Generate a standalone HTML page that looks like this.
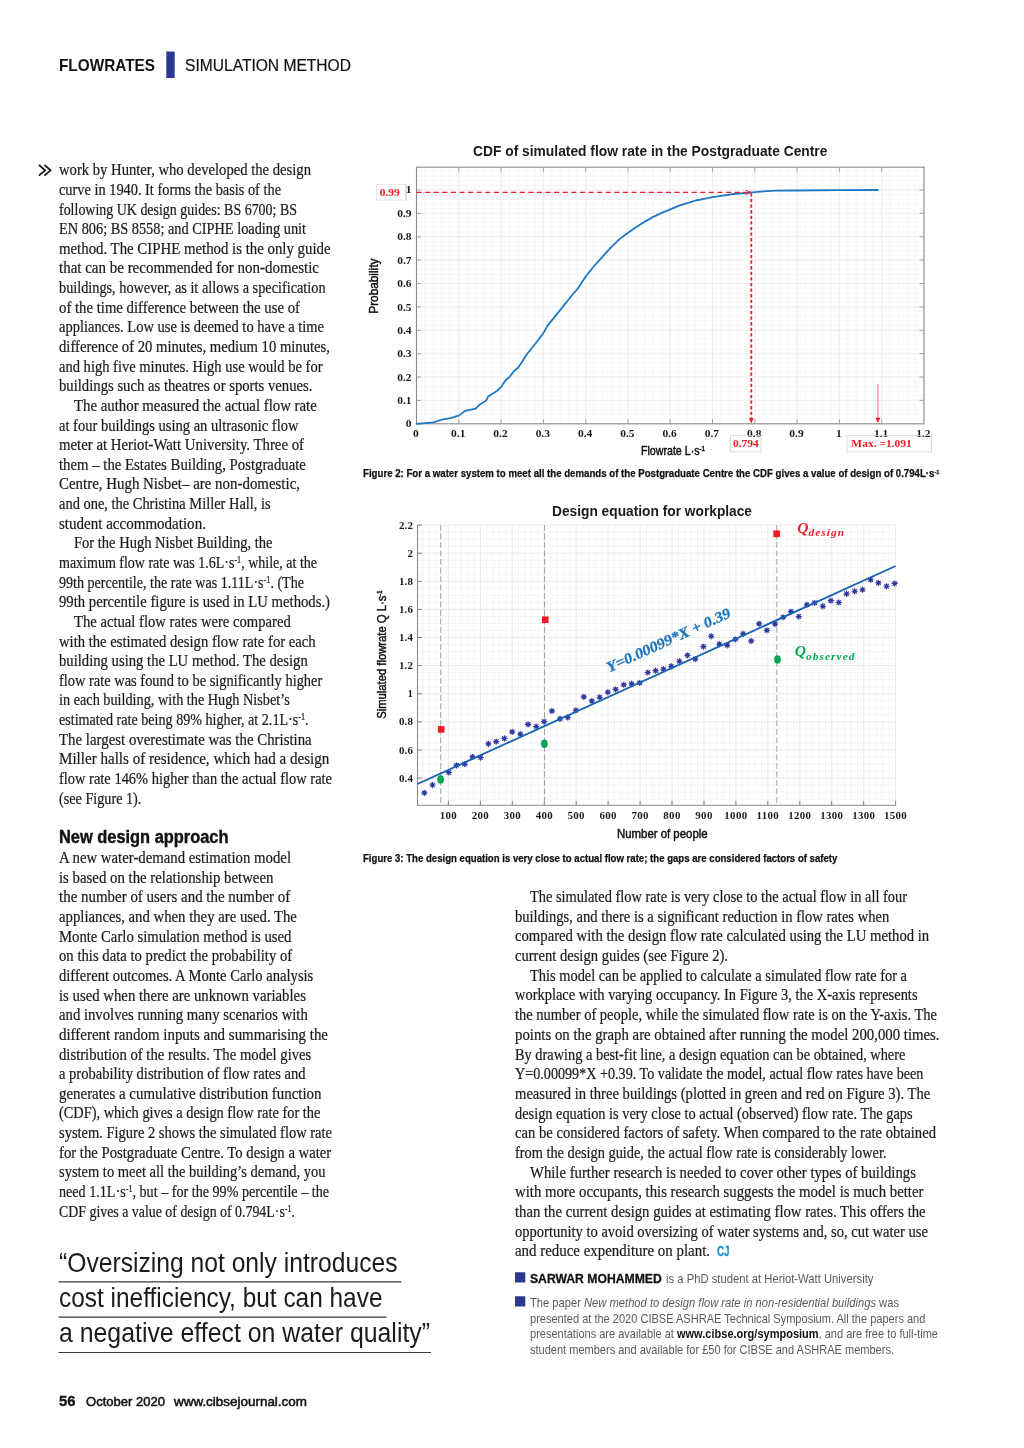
<!DOCTYPE html><html lang="en"><head><meta charset="utf-8"><title>Flowrates – Simulation method</title><style>

html,body{margin:0;padding:0;background:#fff}
body{width:1024px;height:1448px;position:relative;overflow:hidden;color:#231f20}
.l{position:absolute;white-space:nowrap;transform-origin:0 50%;margin:0}
.l sup{font-size:58%;line-height:0;vertical-align:baseline;position:relative;top:-0.5em;letter-spacing:0}
.b{font-family:"Liberation Serif",serif;color:#1d1a1b;-webkit-text-stroke:0.22px #1d1a1b}
.h2{font-family:"Liberation Sans",sans-serif;font-weight:700;color:#111;-webkit-text-stroke:0.4px #111}
.cj{font-family:"Liberation Sans",sans-serif;font-weight:700;color:#1c94d8;-webkit-text-stroke:0.4px #1c94d8}
.au{font-family:"Liberation Sans",sans-serif;font-weight:700;color:#111;-webkit-text-stroke:0.3px #111}
.nt{font-family:"Liberation Sans",sans-serif;color:#5a5a5c}
.nt b{color:#111}
.hd1{font-family:"Liberation Sans",sans-serif;font-weight:700;color:#111}
.hd2{font-family:"Liberation Sans",sans-serif;color:#111;-webkit-text-stroke:0.2px #111}
.ft1{font-family:"Liberation Sans",sans-serif;font-weight:700;color:#111;-webkit-text-stroke:0.3px #111}
.ft2{font-family:"Liberation Sans",sans-serif;color:#111;-webkit-text-stroke:0.5px #111}
.pq{font-family:"Liberation Sans",sans-serif;color:#1c1c1c}
.ct{font-family:"Liberation Sans",sans-serif;font-weight:700;color:#1a1a1a}
.cap{font-family:"Liberation Sans",sans-serif;font-weight:700;color:#111;-webkit-text-stroke:0.25px #111}
.ax{font-family:"Liberation Sans",sans-serif;color:#111;-webkit-text-stroke:0.45px #111}
svg{position:absolute;left:0;top:0}
svg text{font-family:"Liberation Serif",serif;font-weight:700}

</style></head><body>
<svg width="1024" height="1448" viewBox="0 0 1024 1448">
<path d="M416.5 167.2V423.8M425 167.2V423.8M433.4 167.2V423.8M441.9 167.2V423.8M450.3 167.2V423.8M458.8 167.2V423.8M467.2 167.2V423.8M475.7 167.2V423.8M484.2 167.2V423.8M492.6 167.2V423.8M501.1 167.2V423.8M509.5 167.2V423.8M518 167.2V423.8M526.5 167.2V423.8M534.9 167.2V423.8M543.4 167.2V423.8M551.8 167.2V423.8M560.3 167.2V423.8M568.8 167.2V423.8M577.2 167.2V423.8M585.7 167.2V423.8M594.1 167.2V423.8M602.6 167.2V423.8M611 167.2V423.8M619.5 167.2V423.8M628 167.2V423.8M636.4 167.2V423.8M644.9 167.2V423.8M653.3 167.2V423.8M661.8 167.2V423.8M670.2 167.2V423.8M678.7 167.2V423.8M687.2 167.2V423.8M695.6 167.2V423.8M704.1 167.2V423.8M712.5 167.2V423.8M721 167.2V423.8M729.5 167.2V423.8M737.9 167.2V423.8M746.4 167.2V423.8M754.8 167.2V423.8M763.3 167.2V423.8M771.8 167.2V423.8M780.2 167.2V423.8M788.7 167.2V423.8M797.1 167.2V423.8M805.6 167.2V423.8M814 167.2V423.8M822.5 167.2V423.8M831 167.2V423.8M839.4 167.2V423.8M847.9 167.2V423.8M856.3 167.2V423.8M864.8 167.2V423.8M873.2 167.2V423.8M881.7 167.2V423.8M890.2 167.2V423.8M898.6 167.2V423.8M907.1 167.2V423.8M915.5 167.2V423.8M924 167.2V423.8M416.5 423.8H924M416.5 419.1H924M416.5 414.4H924M416.5 409.8H924M416.5 405.1H924M416.5 400.4H924M416.5 395.7H924M416.5 391.1H924M416.5 386.4H924M416.5 381.7H924M416.5 377H924M416.5 372.4H924M416.5 367.7H924M416.5 363H924M416.5 358.3H924M416.5 353.7H924M416.5 349H924M416.5 344.3H924M416.5 339.6H924M416.5 335H924M416.5 330.3H924M416.5 325.6H924M416.5 320.9H924M416.5 316.3H924M416.5 311.6H924M416.5 306.9H924M416.5 302.2H924M416.5 297.5H924M416.5 292.9H924M416.5 288.2H924M416.5 283.5H924M416.5 278.8H924M416.5 274.2H924M416.5 269.5H924M416.5 264.8H924M416.5 260.1H924M416.5 255.5H924M416.5 250.8H924M416.5 246.1H924M416.5 241.4H924M416.5 236.8H924M416.5 232.1H924M416.5 227.4H924M416.5 222.7H924M416.5 218.1H924M416.5 213.4H924M416.5 208.7H924M416.5 204H924M416.5 199.4H924M416.5 194.7H924M416.5 190H924M416.5 185.3H924M416.5 180.6H924M416.5 176H924M416.5 171.3H924" stroke="#f5f5f5" stroke-width="0.8" fill="none"/>
<path d="M458.8 167.2V423.8M501.1 167.2V423.8M543.4 167.2V423.8M585.7 167.2V423.8M628 167.2V423.8M670.2 167.2V423.8M712.5 167.2V423.8M754.8 167.2V423.8M797.1 167.2V423.8M839.4 167.2V423.8M881.7 167.2V423.8M416.5 400.4H924M416.5 377H924M416.5 353.7H924M416.5 330.3H924M416.5 306.9H924M416.5 283.5H924M416.5 260.1H924M416.5 236.8H924M416.5 213.4H924M416.5 190H924" stroke="#ececec" stroke-width="0.9" fill="none"/>
<rect x="416.5" y="167.2" width="507.5" height="256.6" fill="none" stroke="#8a8a8a" stroke-width="1.1"/>
<path d="M458.8 423.8v-4.5M458.8 167.2v4.5M501.1 423.8v-4.5M501.1 167.2v4.5M543.4 423.8v-4.5M543.4 167.2v4.5M585.7 423.8v-4.5M585.7 167.2v4.5M628 423.8v-4.5M628 167.2v4.5M670.2 423.8v-4.5M670.2 167.2v4.5M712.5 423.8v-4.5M712.5 167.2v4.5M754.8 423.8v-4.5M754.8 167.2v4.5M797.1 423.8v-4.5M797.1 167.2v4.5M839.4 423.8v-4.5M839.4 167.2v4.5M881.7 423.8v-4.5M881.7 167.2v4.5M416.5 400.4h4.5M924 400.4h-4.5M416.5 377h4.5M924 377h-4.5M416.5 353.7h4.5M924 353.7h-4.5M416.5 330.3h4.5M924 330.3h-4.5M416.5 306.9h4.5M924 306.9h-4.5M416.5 283.5h4.5M924 283.5h-4.5M416.5 260.1h4.5M924 260.1h-4.5M416.5 236.8h4.5M924 236.8h-4.5M416.5 213.4h4.5M924 213.4h-4.5M416.5 190h4.5M924 190h-4.5" stroke="#999" stroke-width="0.9" fill="none"/>
<text transform="translate(415.9 436.6) scale(1.22 1)" font-size="9.4" text-anchor="middle" fill="#1a1a1a">0</text>
<text transform="translate(458.2 436.6) scale(1.22 1)" font-size="9.4" text-anchor="middle" fill="#1a1a1a">0.1</text>
<text transform="translate(500.5 436.6) scale(1.22 1)" font-size="9.4" text-anchor="middle" fill="#1a1a1a">0.2</text>
<text transform="translate(542.8 436.6) scale(1.22 1)" font-size="9.4" text-anchor="middle" fill="#1a1a1a">0.3</text>
<text transform="translate(585.1 436.6) scale(1.22 1)" font-size="9.4" text-anchor="middle" fill="#1a1a1a">0.4</text>
<text transform="translate(627.4 436.6) scale(1.22 1)" font-size="9.4" text-anchor="middle" fill="#1a1a1a">0.5</text>
<text transform="translate(669.6 436.6) scale(1.22 1)" font-size="9.4" text-anchor="middle" fill="#1a1a1a">0.6</text>
<text transform="translate(711.9 436.6) scale(1.22 1)" font-size="9.4" text-anchor="middle" fill="#1a1a1a">0.7</text>
<text transform="translate(754.2 436.6) scale(1.22 1)" font-size="9.4" text-anchor="middle" fill="#1a1a1a">0.8</text>
<text transform="translate(796.5 436.6) scale(1.22 1)" font-size="9.4" text-anchor="middle" fill="#1a1a1a">0.9</text>
<text transform="translate(838.8 436.6) scale(1.22 1)" font-size="9.4" text-anchor="middle" fill="#1a1a1a">1</text>
<text transform="translate(881.1 436.6) scale(1.22 1)" font-size="9.4" text-anchor="middle" fill="#1a1a1a">1.1</text>
<text transform="translate(923.4 436.6) scale(1.22 1)" font-size="9.4" text-anchor="middle" fill="#1a1a1a">1.2</text>
<text transform="translate(411.6 427.4) scale(1.22 1)" font-size="9.4" text-anchor="end" fill="#1a1a1a">0</text>
<text transform="translate(411.6 404) scale(1.22 1)" font-size="9.4" text-anchor="end" fill="#1a1a1a">0.1</text>
<text transform="translate(411.6 380.6) scale(1.22 1)" font-size="9.4" text-anchor="end" fill="#1a1a1a">0.2</text>
<text transform="translate(411.6 357.3) scale(1.22 1)" font-size="9.4" text-anchor="end" fill="#1a1a1a">0.3</text>
<text transform="translate(411.6 333.9) scale(1.22 1)" font-size="9.4" text-anchor="end" fill="#1a1a1a">0.4</text>
<text transform="translate(411.6 310.5) scale(1.22 1)" font-size="9.4" text-anchor="end" fill="#1a1a1a">0.5</text>
<text transform="translate(411.6 287.1) scale(1.22 1)" font-size="9.4" text-anchor="end" fill="#1a1a1a">0.6</text>
<text transform="translate(411.6 263.7) scale(1.22 1)" font-size="9.4" text-anchor="end" fill="#1a1a1a">0.7</text>
<text transform="translate(411.6 240.4) scale(1.22 1)" font-size="9.4" text-anchor="end" fill="#1a1a1a">0.8</text>
<text transform="translate(411.6 217) scale(1.22 1)" font-size="9.4" text-anchor="end" fill="#1a1a1a">0.9</text>
<path d="M416.5 423.8 L425.0 423.1 L433.4 422.4 L437.6 421.0 L441.9 419.6 L450.3 418.2 L458.8 415.6 L465.1 410.9 L475.7 408.6 L479.9 404.4 L486.3 400.4 L488.4 396.2 L496.9 391.1 L501.1 386.9 L505.3 380.5 L509.5 377.0 L513.8 371.2 L518.0 367.7 L522.2 361.8 L526.5 354.8 L534.9 344.3 L543.4 333.1 L547.6 325.6 L556.1 315.1 L564.5 304.6 L573.0 294.0 L577.2 289.4 L585.7 276.5 L594.1 266.0 L602.6 256.6 L611.0 247.3 L619.5 239.1 L628.0 232.8 L636.4 226.9 L644.9 221.6 L653.3 216.9 L661.8 212.9 L670.2 209.4 L678.7 205.9 L687.2 203.1 L695.6 200.5 L704.1 198.9 L712.5 197.2 L721.0 195.8 L733.7 194.0 L752.3 192.3 L763.3 191.4 L776.0 190.7 L797.1 190.5 L839.4 190.2 L877.9 190.0" stroke="#1f78c4" stroke-width="1.8" fill="none" stroke-linejoin="round" stroke-linecap="round"/>
<path d="M416.5 192.3H747.3" stroke="#ed1c24" stroke-width="1.25" stroke-dasharray="5.1 3.5" fill="none"/>
<path d="M745.3 190L750.8 192.3L745.3 194.6" stroke="#ed1c24" stroke-width="0.9" fill="none"/>
<path d="M751.3 193.3V418.8" stroke="#ed1c24" stroke-width="1.8" stroke-dasharray="3.3 2.3" fill="none"/>
<path d="M748.8 418.3L751.3 423.3L753.8 418.3Z" fill="#ed1c24"/>
<path d="M877.9 383.8V420.8" stroke="#f0585c" stroke-width="0.9" fill="none"/>
<path d="M875.5 417.8L877.9 423L880.3 417.8Z" fill="#ed1c24"/>
<rect x="376.6" y="184.4" width="29.4" height="15.8" fill="#fff" stroke="#e3e3e3" stroke-width="0.8"/>
<path d="M406 185V200" stroke="#bdbdbd" stroke-width="0.8"/>
<text transform="translate(389.8 195.5) scale(1.22 1)" font-size="9.4" text-anchor="middle" fill="#ed1c24">0.99</text>
<text transform="translate(411.6 193.3) scale(1.22 1)" font-size="9.4" text-anchor="end" fill="#1a1a1a">1</text>
<rect x="730.6" y="435.7" width="30.4" height="16.2" fill="none" stroke="#cfcfcf" stroke-width="0.8"/>
<text transform="translate(745.8 447.4) scale(1.22 1)" font-size="9.4" text-anchor="middle" fill="#ed1c24">0.794</text>
<rect x="846.9" y="435.7" width="84.7" height="16.2" fill="none" stroke="#cfcfcf" stroke-width="0.8"/>
<text transform="translate(881.5 447.4) scale(1.22 1)" font-size="9.4" text-anchor="middle" fill="#ed1c24">Max. =1.091</text>
<text transform="translate(378.4 286.2) rotate(-90)" font-size="12.2" text-anchor="middle" textLength="55" lengthAdjust="spacingAndGlyphs" style="font-family:'Liberation Sans',sans-serif;font-weight:400" stroke="#111" stroke-width="0.45" fill="#111">Probability</text>
<path d="M422.9 524.9V805.3M429.3 524.9V805.3M435.7 524.9V805.3M442.1 524.9V805.3M454.8 524.9V805.3M461.2 524.9V805.3M467.6 524.9V805.3M474 524.9V805.3M486.8 524.9V805.3M493.2 524.9V805.3M499.5 524.9V805.3M505.9 524.9V805.3M518.7 524.9V805.3M525.1 524.9V805.3M531.5 524.9V805.3M537.9 524.9V805.3M550.6 524.9V805.3M557 524.9V805.3M563.4 524.9V805.3M569.8 524.9V805.3M582.6 524.9V805.3M589 524.9V805.3M595.4 524.9V805.3M601.8 524.9V805.3M614.5 524.9V805.3M620.9 524.9V805.3M627.3 524.9V805.3M633.7 524.9V805.3M646.5 524.9V805.3M652.9 524.9V805.3M659.2 524.9V805.3M665.6 524.9V805.3M678.4 524.9V805.3M684.8 524.9V805.3M691.2 524.9V805.3M697.6 524.9V805.3M710.3 524.9V805.3M716.7 524.9V805.3M723.1 524.9V805.3M729.5 524.9V805.3M742.3 524.9V805.3M748.7 524.9V805.3M755.1 524.9V805.3M761.5 524.9V805.3M774.2 524.9V805.3M780.6 524.9V805.3M787 524.9V805.3M793.4 524.9V805.3M806.2 524.9V805.3M812.6 524.9V805.3M818.9 524.9V805.3M825.3 524.9V805.3M838.1 524.9V805.3M844.5 524.9V805.3M850.9 524.9V805.3M857.3 524.9V805.3M870 524.9V805.3M876.4 524.9V805.3M882.8 524.9V805.3M889.2 524.9V805.3M417.5 799.2H895.6M417.5 792.1H895.6M417.5 785.1H895.6M417.5 771.1H895.6M417.5 764H895.6M417.5 757H895.6M417.5 742.9H895.6M417.5 735.9H895.6M417.5 728.9H895.6M417.5 714.8H895.6M417.5 707.8H895.6M417.5 700.8H895.6M417.5 686.7H895.6M417.5 679.7H895.6M417.5 672.7H895.6M417.5 658.6H895.6M417.5 651.6H895.6M417.5 644.6H895.6M417.5 630.5H895.6M417.5 623.5H895.6M417.5 616.4H895.6M417.5 602.4H895.6M417.5 595.4H895.6M417.5 588.3H895.6M417.5 574.3H895.6M417.5 567.3H895.6M417.5 560.2H895.6M417.5 546.2H895.6M417.5 539.1H895.6M417.5 532.1H895.6" stroke="#e2e2e2" stroke-width="0.8" stroke-dasharray="1 1.5" fill="none"/>
<path d="M448.4 524.9V805.3M480.4 524.9V805.3M512.3 524.9V805.3M544.3 524.9V805.3M576.2 524.9V805.3M608.1 524.9V805.3M640.1 524.9V805.3M672 524.9V805.3M704 524.9V805.3M735.9 524.9V805.3M767.8 524.9V805.3M799.8 524.9V805.3M831.7 524.9V805.3M863.7 524.9V805.3M895.6 524.9V805.3M417.5 778.1H895.6M417.5 750H895.6M417.5 721.9H895.6M417.5 693.8H895.6M417.5 665.6H895.6M417.5 637.5H895.6M417.5 609.4H895.6M417.5 581.3H895.6M417.5 553.2H895.6M417.5 525.1H895.6" stroke="#e7e7e7" stroke-width="0.85" fill="none"/>
<path d="M417.5 524.9V805.3H895.6" stroke="#8a8a8a" stroke-width="1.1" fill="none"/>
<path d="M448.4 805.3v-4.5M480.4 805.3v-4.5M512.3 805.3v-4.5M544.3 805.3v-4.5M576.2 805.3v-4.5M608.1 805.3v-4.5M640.1 805.3v-4.5M672 805.3v-4.5M704 805.3v-4.5M735.9 805.3v-4.5M767.8 805.3v-4.5M799.8 805.3v-4.5M831.7 805.3v-4.5M863.7 805.3v-4.5M895.6 805.3v-4.5M417.5 778.1h4.5M417.5 750h4.5M417.5 721.9h4.5M417.5 693.8h4.5M417.5 665.6h4.5M417.5 637.5h4.5M417.5 609.4h4.5M417.5 581.3h4.5M417.5 553.2h4.5M417.5 525.1h4.5" stroke="#777" stroke-width="0.9" fill="none"/>
<text transform="translate(448.4 818.9) scale(1.06 1)" font-size="10.3" text-anchor="middle" fill="#1a1a1a" letter-spacing="0.3">100</text>
<text transform="translate(480.4 818.9) scale(1.06 1)" font-size="10.3" text-anchor="middle" fill="#1a1a1a" letter-spacing="0.3">200</text>
<text transform="translate(512.3 818.9) scale(1.06 1)" font-size="10.3" text-anchor="middle" fill="#1a1a1a" letter-spacing="0.3">300</text>
<text transform="translate(544.3 818.9) scale(1.06 1)" font-size="10.3" text-anchor="middle" fill="#1a1a1a" letter-spacing="0.3">400</text>
<text transform="translate(576.2 818.9) scale(1.06 1)" font-size="10.3" text-anchor="middle" fill="#1a1a1a" letter-spacing="0.3">500</text>
<text transform="translate(608.1 818.9) scale(1.06 1)" font-size="10.3" text-anchor="middle" fill="#1a1a1a" letter-spacing="0.3">600</text>
<text transform="translate(640.1 818.9) scale(1.06 1)" font-size="10.3" text-anchor="middle" fill="#1a1a1a" letter-spacing="0.3">700</text>
<text transform="translate(672 818.9) scale(1.06 1)" font-size="10.3" text-anchor="middle" fill="#1a1a1a" letter-spacing="0.3">800</text>
<text transform="translate(704 818.9) scale(1.06 1)" font-size="10.3" text-anchor="middle" fill="#1a1a1a" letter-spacing="0.3">900</text>
<text transform="translate(735.9 818.9) scale(1.06 1)" font-size="10.3" text-anchor="middle" fill="#1a1a1a" letter-spacing="0.3">1000</text>
<text transform="translate(767.8 818.9) scale(1.06 1)" font-size="10.3" text-anchor="middle" fill="#1a1a1a" letter-spacing="0.3">1100</text>
<text transform="translate(799.8 818.9) scale(1.06 1)" font-size="10.3" text-anchor="middle" fill="#1a1a1a" letter-spacing="0.3">1200</text>
<text transform="translate(831.7 818.9) scale(1.06 1)" font-size="10.3" text-anchor="middle" fill="#1a1a1a" letter-spacing="0.3">1300</text>
<text transform="translate(863.7 818.9) scale(1.06 1)" font-size="10.3" text-anchor="middle" fill="#1a1a1a" letter-spacing="0.3">1300</text>
<text transform="translate(895.6 818.9) scale(1.06 1)" font-size="10.3" text-anchor="middle" fill="#1a1a1a" letter-spacing="0.3">1500</text>
<text transform="translate(413.2 781.6) scale(1.06 1)" font-size="10.3" text-anchor="end" fill="#1a1a1a" letter-spacing="0.2">0.4</text>
<text transform="translate(413.2 753.5) scale(1.06 1)" font-size="10.3" text-anchor="end" fill="#1a1a1a" letter-spacing="0.2">0.6</text>
<text transform="translate(413.2 725.4) scale(1.06 1)" font-size="10.3" text-anchor="end" fill="#1a1a1a" letter-spacing="0.2">0.8</text>
<text transform="translate(413.2 697.2) scale(1.06 1)" font-size="10.3" text-anchor="end" fill="#1a1a1a" letter-spacing="0.2">1</text>
<text transform="translate(413.2 669.1) scale(1.06 1)" font-size="10.3" text-anchor="end" fill="#1a1a1a" letter-spacing="0.2">1.2</text>
<text transform="translate(413.2 641) scale(1.06 1)" font-size="10.3" text-anchor="end" fill="#1a1a1a" letter-spacing="0.2">1.4</text>
<text transform="translate(413.2 612.9) scale(1.06 1)" font-size="10.3" text-anchor="end" fill="#1a1a1a" letter-spacing="0.2">1.6</text>
<text transform="translate(413.2 584.8) scale(1.06 1)" font-size="10.3" text-anchor="end" fill="#1a1a1a" letter-spacing="0.2">1.8</text>
<text transform="translate(413.2 556.7) scale(1.06 1)" font-size="10.3" text-anchor="end" fill="#1a1a1a" letter-spacing="0.2">2</text>
<text transform="translate(413.2 528.6) scale(1.06 1)" font-size="10.3" text-anchor="end" fill="#1a1a1a" letter-spacing="0.2">2.2</text>
<path d="M440.7 524.9V805.3" stroke="#9a9a9a" stroke-width="0.9" stroke-dasharray="6 2.5" fill="none"/>
<path d="M544.5 524.9V805.3" stroke="#9a9a9a" stroke-width="0.9" stroke-dasharray="6 2.5" fill="none"/>
<path d="M776.8 524.9V805.3" stroke="#9a9a9a" stroke-width="0.9" stroke-dasharray="6 2.5" fill="none"/>
<path d="M421.8 792.8L427.0 792.8M422.5 791.0L426.2 794.7M424.4 790.2L424.4 795.4M426.2 791.0L422.5 794.7M429.9 785.0L435.1 785.0M430.7 783.2L434.3 786.8M432.5 782.4L432.5 787.6M434.3 783.2L430.7 786.8M438.0 779.4L443.2 779.4M438.8 777.5L442.5 781.2M440.6 776.8L440.6 782.0M442.5 777.5L438.8 781.2M446.1 772.5L451.4 772.5M446.9 770.7L450.6 774.3M448.8 769.9L448.8 775.1M450.6 770.7L446.9 774.3M454.0 765.3L459.2 765.3M454.7 763.5L458.4 767.2M456.6 762.7L456.6 767.9M458.4 763.5L454.7 767.2M462.1 764.1L467.3 764.1M462.8 762.2L466.5 765.9M464.7 761.5L464.7 766.7M466.5 762.2L462.8 765.9M469.9 756.9L475.1 756.9M470.7 755.0L474.3 758.7M472.5 754.3L472.5 759.5M474.3 755.0L470.7 758.7M478.0 757.5L483.2 757.5M478.8 755.7L482.5 759.3M480.6 754.9L480.6 760.1M482.5 755.7L478.8 759.3M485.8 743.8L491.0 743.8M486.6 741.9L490.3 745.6M488.4 741.1L488.4 746.4M490.3 741.9L486.6 745.6M493.6 741.6L498.9 741.6M494.4 739.7L498.1 743.4M496.2 739.0L496.2 744.2M498.1 739.7L494.4 743.4M501.8 738.4L507.0 738.4M502.5 736.6L506.2 740.3M504.4 735.8L504.4 741.0M506.2 736.6L502.5 740.3M509.6 731.9L514.8 731.9M510.3 730.0L514.0 733.7M512.2 729.3L512.2 734.5M514.0 730.0L510.3 733.7M517.7 734.1L522.9 734.1M518.5 732.2L522.2 735.9M520.3 731.5L520.3 736.7M522.2 732.2L518.5 735.9M525.5 724.4L530.7 724.4M526.3 722.5L530.0 726.2M528.1 721.8L528.1 727.0M530.0 722.5L526.3 726.2M533.6 726.6L538.9 726.6M534.4 724.7L538.1 728.4M536.2 724.0L536.2 729.2M538.1 724.7L534.4 728.4M541.5 721.6L546.7 721.6M542.2 719.7L545.9 723.4M544.1 719.0L544.1 724.2M545.9 719.7L542.2 723.4M549.3 710.9L554.5 710.9M550.0 709.1L553.7 712.8M551.9 708.3L551.9 713.5M553.7 709.1L550.0 712.8M557.4 718.8L562.6 718.8M558.2 716.9L561.8 720.6M560.0 716.1L560.0 721.4M561.8 716.9L558.2 720.6M565.2 717.5L570.4 717.5M566.0 715.7L569.7 719.3M567.8 714.9L567.8 720.1M569.7 715.7L566.0 719.3M573.3 710.3L578.5 710.3M574.1 708.5L577.8 712.2M575.9 707.7L575.9 712.9M577.8 708.5L574.1 712.2M581.1 696.9L586.4 696.9M581.9 695.0L585.6 698.7M583.8 694.3L583.8 699.5M585.6 695.0L581.9 698.7M589.3 700.9L594.5 700.9M590.0 699.1L593.7 702.8M591.9 698.3L591.9 703.5M593.7 699.1L590.0 702.8M597.1 697.2L602.3 697.2M597.8 695.3L601.5 699.0M599.7 694.6L599.7 699.8M601.5 695.3L597.8 699.0M605.2 692.2L610.4 692.2M606.0 690.3L609.7 694.0M607.8 689.6L607.8 694.8M609.7 690.3L606.0 694.0M613.0 689.4L618.2 689.4M613.8 687.5L617.5 691.2M615.6 686.8L615.6 692.0M617.5 687.5L613.8 691.2M621.1 684.7L626.4 684.7M621.9 682.8L625.6 686.5M623.8 682.1L623.8 687.3M625.6 682.8L621.9 686.5M629.0 683.8L634.2 683.8M629.7 681.9L633.4 685.6M631.6 681.1L631.6 686.4M633.4 681.9L629.7 685.6M637.1 682.8L642.3 682.8M637.8 681.0L641.5 684.7M639.7 680.2L639.7 685.4M641.5 681.0L637.8 684.7M645.2 672.5L650.4 672.5M646.0 670.7L649.7 674.3M647.8 669.9L647.8 675.1M649.7 670.7L646.0 674.3M653.0 670.6L658.2 670.6M653.8 668.8L657.5 672.5M655.6 668.0L655.6 673.2M657.5 668.8L653.8 672.5M660.8 669.1L666.0 669.1M661.6 667.2L665.3 670.9M663.4 666.5L663.4 671.7M665.3 667.2L661.6 670.9M668.6 666.2L673.9 666.2M669.4 664.4L673.1 668.1M671.2 663.6L671.2 668.9M673.1 664.4L669.4 668.1M676.8 661.2L682.0 661.2M677.5 659.4L681.2 663.1M679.4 658.6L679.4 663.9M681.2 659.4L677.5 663.1M684.9 655.3L690.1 655.3M685.7 653.5L689.3 657.2M687.5 652.7L687.5 657.9M689.3 653.5L685.7 657.2M692.7 659.1L697.9 659.1M693.5 657.2L697.2 660.9M695.3 656.5L695.3 661.7M697.2 657.2L693.5 660.9M700.8 646.6L706.0 646.6M701.6 644.7L705.3 648.4M703.4 644.0L703.4 649.2M705.3 644.7L701.6 648.4M708.6 636.2L713.9 636.2M709.4 634.4L713.1 638.1M711.2 633.6L711.2 638.9M713.1 634.4L709.4 638.1M716.8 644.1L722.0 644.1M717.5 642.2L721.2 645.9M719.4 641.5L719.4 646.7M721.2 642.2L717.5 645.9M724.6 645.3L729.8 645.3M725.3 643.5L729.0 647.2M727.2 642.7L727.2 647.9M729.0 643.5L725.3 647.2M732.7 639.4L737.9 639.4M733.5 637.5L737.2 641.2M735.3 636.8L735.3 642.0M737.2 637.5L733.5 641.2M740.5 633.8L745.7 633.8M741.3 631.9L745.0 635.6M743.1 631.1L743.1 636.4M745.0 631.9L741.3 635.6M748.6 640.9L753.9 640.9M749.4 639.1L753.1 642.8M751.2 638.3L751.2 643.5M753.1 639.1L749.4 642.8M756.5 623.8L761.7 623.8M757.2 621.9L760.9 625.6M759.1 621.1L759.1 626.4M760.9 621.9L757.2 625.6M764.3 630.3L769.5 630.3M765.0 628.5L768.7 632.2M766.9 627.7L766.9 632.9M768.7 628.5L765.0 632.2M772.4 624.1L777.6 624.1M773.2 622.2L776.8 625.9M775.0 621.5L775.0 626.7M776.8 622.2L773.2 625.9M780.5 617.2L785.7 617.2M781.3 615.3L785.0 619.0M783.1 614.6L783.1 619.8M785.0 615.3L781.3 619.0M788.3 611.6L793.5 611.6M789.1 609.7L792.8 613.4M790.9 609.0L790.9 614.2M792.8 609.7L789.1 613.4M796.1 616.6L801.4 616.6M796.9 614.7L800.6 618.4M798.8 614.0L798.8 619.2M800.6 614.7L796.9 618.4M804.3 604.7L809.5 604.7M805.0 602.8L808.7 606.5M806.9 602.1L806.9 607.3M808.7 602.8L805.0 606.5M812.1 602.8L817.3 602.8M812.8 601.0L816.5 604.7M814.7 600.2L814.7 605.4M816.5 601.0L812.8 604.7M820.2 606.2L825.4 606.2M821.0 604.4L824.7 608.1M822.8 603.6L822.8 608.9M824.7 604.4L821.0 608.1M828.3 600.6L833.5 600.6M829.1 598.8L832.8 602.5M830.9 598.0L830.9 603.2M832.8 598.8L829.1 602.5M836.1 602.5L841.4 602.5M836.9 600.7L840.6 604.3M838.8 599.9L838.8 605.1M840.6 600.7L836.9 604.3M844.0 593.8L849.2 593.8M844.7 591.9L848.4 595.6M846.6 591.1L846.6 596.4M848.4 591.9L844.7 595.6M852.1 591.2L857.3 591.2M852.8 589.4L856.5 593.1M854.7 588.6L854.7 593.9M856.5 589.4L852.8 593.1M859.9 589.7L865.1 589.7M860.7 587.8L864.3 591.5M862.5 587.1L862.5 592.3M864.3 587.8L860.7 591.5M868.0 579.7L873.2 579.7M868.8 577.8L872.5 581.5M870.6 577.1L870.6 582.3M872.5 577.8L868.8 581.5M875.8 582.8L881.0 582.8M876.6 581.0L880.3 584.7M878.4 580.2L878.4 585.4M880.3 581.0L876.6 584.7M884.0 586.2L889.2 586.2M884.7 584.4L888.4 588.1M886.6 583.6L886.6 588.9M888.4 584.4L884.7 588.1M892.1 583.4L897.3 583.4M892.8 581.6L896.5 585.3M894.7 580.8L894.7 586.0M896.5 581.6L892.8 585.3" stroke="#3038a0" stroke-width="1.15" fill="none" stroke-linecap="round"/>
<g fill="#3038a0"><circle cx="424.4" cy="792.8" r="1.75"/><circle cx="432.5" cy="785.0" r="1.75"/><circle cx="440.6" cy="779.4" r="1.75"/><circle cx="448.8" cy="772.5" r="1.75"/><circle cx="456.6" cy="765.3" r="1.75"/><circle cx="464.7" cy="764.1" r="1.75"/><circle cx="472.5" cy="756.9" r="1.75"/><circle cx="480.6" cy="757.5" r="1.75"/><circle cx="488.4" cy="743.8" r="1.75"/><circle cx="496.2" cy="741.6" r="1.75"/><circle cx="504.4" cy="738.4" r="1.75"/><circle cx="512.2" cy="731.9" r="1.75"/><circle cx="520.3" cy="734.1" r="1.75"/><circle cx="528.1" cy="724.4" r="1.75"/><circle cx="536.2" cy="726.6" r="1.75"/><circle cx="544.1" cy="721.6" r="1.75"/><circle cx="551.9" cy="710.9" r="1.75"/><circle cx="560.0" cy="718.8" r="1.75"/><circle cx="567.8" cy="717.5" r="1.75"/><circle cx="575.9" cy="710.3" r="1.75"/><circle cx="583.8" cy="696.9" r="1.75"/><circle cx="591.9" cy="700.9" r="1.75"/><circle cx="599.7" cy="697.2" r="1.75"/><circle cx="607.8" cy="692.2" r="1.75"/><circle cx="615.6" cy="689.4" r="1.75"/><circle cx="623.8" cy="684.7" r="1.75"/><circle cx="631.6" cy="683.8" r="1.75"/><circle cx="639.7" cy="682.8" r="1.75"/><circle cx="647.8" cy="672.5" r="1.75"/><circle cx="655.6" cy="670.6" r="1.75"/><circle cx="663.4" cy="669.1" r="1.75"/><circle cx="671.2" cy="666.2" r="1.75"/><circle cx="679.4" cy="661.2" r="1.75"/><circle cx="687.5" cy="655.3" r="1.75"/><circle cx="695.3" cy="659.1" r="1.75"/><circle cx="703.4" cy="646.6" r="1.75"/><circle cx="711.2" cy="636.2" r="1.75"/><circle cx="719.4" cy="644.1" r="1.75"/><circle cx="727.2" cy="645.3" r="1.75"/><circle cx="735.3" cy="639.4" r="1.75"/><circle cx="743.1" cy="633.8" r="1.75"/><circle cx="751.2" cy="640.9" r="1.75"/><circle cx="759.1" cy="623.8" r="1.75"/><circle cx="766.9" cy="630.3" r="1.75"/><circle cx="775.0" cy="624.1" r="1.75"/><circle cx="783.1" cy="617.2" r="1.75"/><circle cx="790.9" cy="611.6" r="1.75"/><circle cx="798.8" cy="616.6" r="1.75"/><circle cx="806.9" cy="604.7" r="1.75"/><circle cx="814.7" cy="602.8" r="1.75"/><circle cx="822.8" cy="606.2" r="1.75"/><circle cx="830.9" cy="600.6" r="1.75"/><circle cx="838.8" cy="602.5" r="1.75"/><circle cx="846.6" cy="593.8" r="1.75"/><circle cx="854.7" cy="591.2" r="1.75"/><circle cx="862.5" cy="589.7" r="1.75"/><circle cx="870.6" cy="579.7" r="1.75"/><circle cx="878.4" cy="582.8" r="1.75"/><circle cx="886.6" cy="586.2" r="1.75"/><circle cx="894.7" cy="583.4" r="1.75"/></g>
<path d="M417.5 784L895.6 566" stroke="#1a63b0" stroke-width="1.9" fill="none"/>
<rect x="437.9" y="726.1" width="6.6" height="6.6" fill="#ed1c24"/>
<rect x="542" y="616.4" width="6.6" height="6.6" fill="#ed1c24"/>
<rect x="773.3" y="530.5" width="6.6" height="6.6" fill="#ed1c24"/>
<ellipse cx="440.6" cy="779.4" rx="3.3" ry="4.2" fill="#00a651"/>
<ellipse cx="544.4" cy="743.8" rx="3.3" ry="4.2" fill="#00a651"/>
<ellipse cx="777.5" cy="659.4" rx="3.3" ry="4.2" fill="#00a651"/>
<text x="797.3" y="532.8" font-size="15.5" font-style="italic" fill="#ed1c24">Q<tspan font-size="11.3" dy="3.2" letter-spacing="1.1">design</tspan></text>
<text x="794.8" y="656.4" font-size="15.5" font-style="italic" fill="#00a651">Q<tspan font-size="11.3" dy="3.2" letter-spacing="1.1">observed</tspan></text>
<text transform="translate(670.5 644.5) rotate(-24.5)" font-size="15" font-style="italic" text-anchor="middle" fill="#1c75bc" stroke="#1c75bc" stroke-width="0.3" textLength="134.5" lengthAdjust="spacingAndGlyphs">Y=0.00099*X + 0.39</text>
<text transform="translate(386 654.6) rotate(-90)" font-size="12.2" text-anchor="middle" textLength="128.5" lengthAdjust="spacingAndGlyphs" style="font-family:'Liberation Sans',sans-serif;font-weight:400" stroke="#111" stroke-width="0.45" fill="#111">Simulated flowrate Q L·s<tspan font-size="6.5" dy="-4.5">-1</tspan></text>
<path d="M38.9 164.9L45.1 170.3L38.9 175.7M44.4 164.9L50.6 170.3L44.4 175.7" stroke="#111" stroke-width="1.7" fill="none"/>
<path d="M166.3 51.6h8.4v26.4h-8.4zM515 1272.3h10.3v10.3h-10.3zM515 1296.2h10.3v10.3h-10.3z" fill="#2b3990"/>
<path d="M58.5 1281.8H401.5M58.5 1317.1H386.5M58.5 1352.5H431" stroke="#3a3a3a" stroke-width="1.2" fill="none"/>
</svg>
<div class="l b" id="L0" style="left:59.0px;top:159px;font-size:16.6px;line-height:22px;transform:scaleX(0.8826);">work by Hunter, who developed the design</div>
<div class="l b" id="L1" style="left:59.0px;top:179px;font-size:16.6px;line-height:22px;transform:scaleX(0.8649);">curve in 1940. It forms the basis of the</div>
<div class="l b" id="L2" style="left:59.0px;top:199px;font-size:16.6px;line-height:22px;transform:scaleX(0.8409);">following UK design guides: BS 6700; BS</div>
<div class="l b" id="L3" style="left:59.0px;top:218px;font-size:16.6px;line-height:22px;transform:scaleX(0.8629);">EN 806; BS 8558; and CIPHE loading unit</div>
<div class="l b" id="L4" style="left:59.0px;top:238px;font-size:16.6px;line-height:22px;transform:scaleX(0.8934);">method. The CIPHE method is the only guide</div>
<div class="l b" id="L5" style="left:59.0px;top:257px;font-size:16.6px;line-height:22px;transform:scaleX(0.9028);">that can be recommended for non-domestic</div>
<div class="l b" id="L6" style="left:59.0px;top:277px;font-size:16.6px;line-height:22px;transform:scaleX(0.8599);">buildings, however, as it allows a specification</div>
<div class="l b" id="L7" style="left:59.0px;top:297px;font-size:16.6px;line-height:22px;transform:scaleX(0.8890);">of the time difference between the use of</div>
<div class="l b" id="L8" style="left:59.0px;top:316px;font-size:16.6px;line-height:22px;transform:scaleX(0.8727);">appliances. Low use is deemed to have a time</div>
<div class="l b" id="L9" style="left:59.0px;top:336px;font-size:16.6px;line-height:22px;transform:scaleX(0.8838);">difference of 20 minutes, medium 10 minutes,</div>
<div class="l b" id="L10" style="left:59.0px;top:356px;font-size:16.6px;line-height:22px;transform:scaleX(0.8756);">and high five minutes. High use would be for</div>
<div class="l b" id="L11" style="left:59.0px;top:375px;font-size:16.6px;line-height:22px;transform:scaleX(0.8857);">buildings such as theatres or sports venues.</div>
<div class="l b" id="L12" style="left:74.2px;top:395px;font-size:16.6px;line-height:22px;transform:scaleX(0.8932);">The author measured the actual flow rate</div>
<div class="l b" id="L13" style="left:59.0px;top:415px;font-size:16.6px;line-height:22px;transform:scaleX(0.8745);">at four buildings using an ultrasonic flow</div>
<div class="l b" id="L14" style="left:59.0px;top:434px;font-size:16.6px;line-height:22px;transform:scaleX(0.8920);">meter at Heriot-Watt University. Three of</div>
<div class="l b" id="L15" style="left:59.0px;top:454px;font-size:16.6px;line-height:22px;transform:scaleX(0.8899);">them – the Estates Building, Postgraduate</div>
<div class="l b" id="L16" style="left:59.0px;top:473px;font-size:16.6px;line-height:22px;transform:scaleX(0.8986);">Centre, Hugh Nisbet– are non-domestic,</div>
<div class="l b" id="L17" style="left:59.0px;top:493px;font-size:16.6px;line-height:22px;transform:scaleX(0.8700);">and one, the Christina Miller Hall, is</div>
<div class="l b" id="L18" style="left:59.0px;top:513px;font-size:16.6px;line-height:22px;transform:scaleX(0.9056);">student accommodation.</div>
<div class="l b" id="L19" style="left:74.2px;top:532px;font-size:16.6px;line-height:22px;transform:scaleX(0.8753);">For the Hugh Nisbet Building, the</div>
<div class="l b" id="L20" style="left:59.0px;top:552px;font-size:16.6px;line-height:22px;transform:scaleX(0.8439);">maximum flow rate was 1.6L·s<sup>-1</sup>, while, at the</div>
<div class="l b" id="L21" style="left:59.0px;top:572px;font-size:16.6px;line-height:22px;transform:scaleX(0.8479);">99th percentile, the rate was 1.11L·s<sup>-1</sup>. (The</div>
<div class="l b" id="L22" style="left:59.0px;top:591px;font-size:16.6px;line-height:22px;transform:scaleX(0.8856);">99th percentile figure is used in LU methods.)</div>
<div class="l b" id="L23" style="left:74.2px;top:611px;font-size:16.6px;line-height:22px;transform:scaleX(0.8829);">The actual flow rates were compared</div>
<div class="l b" id="L24" style="left:59.0px;top:631px;font-size:16.6px;line-height:22px;transform:scaleX(0.8825);">with the estimated design flow rate for each</div>
<div class="l b" id="L25" style="left:59.0px;top:650px;font-size:16.6px;line-height:22px;transform:scaleX(0.8844);">building using the LU method. The design</div>
<div class="l b" id="L26" style="left:59.0px;top:670px;font-size:16.6px;line-height:22px;transform:scaleX(0.8696);">flow rate was found to be significantly higher</div>
<div class="l b" id="L27" style="left:59.0px;top:689px;font-size:16.6px;line-height:22px;transform:scaleX(0.8589);">in each building, with the Hugh Nisbet’s</div>
<div class="l b" id="L28" style="left:59.0px;top:709px;font-size:16.6px;line-height:22px;transform:scaleX(0.8504);">estimated rate being 89% higher, at 2.1L·s<sup>-1</sup>.</div>
<div class="l b" id="L29" style="left:59.0px;top:729px;font-size:16.6px;line-height:22px;transform:scaleX(0.8956);">The largest overestimate was the Christina</div>
<div class="l b" id="L30" style="left:59.0px;top:748px;font-size:16.6px;line-height:22px;transform:scaleX(0.9080);">Miller halls of residence, which had a design</div>
<div class="l b" id="L31" style="left:59.0px;top:768px;font-size:16.6px;line-height:22px;transform:scaleX(0.8713);">flow rate 146% higher than the actual flow rate</div>
<div class="l b" id="L32" style="left:59.0px;top:788px;font-size:16.6px;line-height:22px;transform:scaleX(0.8555);">(see Figure 1).</div>
<div class="l h2" id="L33" style="left:59.0px;top:826px;font-size:17.5px;line-height:23px;transform:scaleX(0.9371);">New design approach</div>
<div class="l b" id="L34" style="left:59.0px;top:847px;font-size:16.6px;line-height:22px;transform:scaleX(0.8906);">A new water-demand estimation model</div>
<div class="l b" id="L35" style="left:59.0px;top:867px;font-size:16.6px;line-height:22px;transform:scaleX(0.8930);">is based on the relationship between</div>
<div class="l b" id="L36" style="left:59.0px;top:886px;font-size:16.6px;line-height:22px;transform:scaleX(0.9008);">the number of users and the number of</div>
<div class="l b" id="L37" style="left:59.0px;top:906px;font-size:16.6px;line-height:22px;transform:scaleX(0.8882);">appliances, and when they are used. The</div>
<div class="l b" id="L38" style="left:59.0px;top:926px;font-size:16.6px;line-height:22px;transform:scaleX(0.8861);">Monte Carlo simulation method is used</div>
<div class="l b" id="L39" style="left:59.0px;top:945px;font-size:16.6px;line-height:22px;transform:scaleX(0.8862);">on this data to predict the probability of</div>
<div class="l b" id="L40" style="left:59.0px;top:965px;font-size:16.6px;line-height:22px;transform:scaleX(0.8796);">different outcomes. A Monte Carlo analysis</div>
<div class="l b" id="L41" style="left:59.0px;top:985px;font-size:16.6px;line-height:22px;transform:scaleX(0.8900);">is used when there are unknown variables</div>
<div class="l b" id="L42" style="left:59.0px;top:1004px;font-size:16.6px;line-height:22px;transform:scaleX(0.8864);">and involves running many scenarios with</div>
<div class="l b" id="L43" style="left:59.0px;top:1024px;font-size:16.6px;line-height:22px;transform:scaleX(0.9003);">different random inputs and summarising the</div>
<div class="l b" id="L44" style="left:59.0px;top:1044px;font-size:16.6px;line-height:22px;transform:scaleX(0.8853);">distribution of the results. The model gives</div>
<div class="l b" id="L45" style="left:59.0px;top:1063px;font-size:16.6px;line-height:22px;transform:scaleX(0.8768);">a probability distribution of flow rates and</div>
<div class="l b" id="L46" style="left:59.0px;top:1083px;font-size:16.6px;line-height:22px;transform:scaleX(0.8985);">generates a cumulative distribution function</div>
<div class="l b" id="L47" style="left:59.0px;top:1102px;font-size:16.6px;line-height:22px;transform:scaleX(0.8657);">(CDF), which gives a design flow rate for the</div>
<div class="l b" id="L48" style="left:59.0px;top:1122px;font-size:16.6px;line-height:22px;transform:scaleX(0.8736);">system. Figure 2 shows the simulated flow rate</div>
<div class="l b" id="L49" style="left:59.0px;top:1142px;font-size:16.6px;line-height:22px;transform:scaleX(0.8860);">for the Postgraduate Centre. To design a water</div>
<div class="l b" id="L50" style="left:59.0px;top:1161px;font-size:16.6px;line-height:22px;transform:scaleX(0.8731);">system to meet all the building’s demand, you</div>
<div class="l b" id="L51" style="left:59.0px;top:1181px;font-size:16.6px;line-height:22px;transform:scaleX(0.8511);">need 1.1L·s<sup>-1</sup>, but – for the 99% percentile – the</div>
<div class="l b" id="L52" style="left:59.0px;top:1201px;font-size:16.6px;line-height:22px;transform:scaleX(0.8361);">CDF gives a value of design of 0.794L·s<sup>-1</sup>.</div>
<div class="l b" id="L53" style="left:529.6px;top:886px;font-size:16.6px;line-height:22px;transform:scaleX(0.8676);">The simulated flow rate is very close to the actual flow in all four</div>
<div class="l b" id="L54" style="left:514.8px;top:906px;font-size:16.6px;line-height:22px;transform:scaleX(0.8779);">buildings, and there is a significant reduction in flow rates when</div>
<div class="l b" id="L55" style="left:514.8px;top:925px;font-size:16.6px;line-height:22px;transform:scaleX(0.8856);">compared with the design flow rate calculated using the LU method in</div>
<div class="l b" id="L56" style="left:514.8px;top:945px;font-size:16.6px;line-height:22px;transform:scaleX(0.8787);">current design guides (see Figure 2).</div>
<div class="l b" id="L57" style="left:529.6px;top:965px;font-size:16.6px;line-height:22px;transform:scaleX(0.8686);">This model can be applied to calculate a simulated flow rate for a</div>
<div class="l b" id="L58" style="left:514.8px;top:984px;font-size:16.6px;line-height:22px;transform:scaleX(0.8712);">workplace with varying occupancy. In Figure 3, the X-axis represents</div>
<div class="l b" id="L59" style="left:514.8px;top:1004px;font-size:16.6px;line-height:22px;transform:scaleX(0.8728);">the number of people, while the simulated flow rate is on the Y-axis. The</div>
<div class="l b" id="L60" style="left:514.8px;top:1024px;font-size:16.6px;line-height:22px;transform:scaleX(0.8919);">points on the graph are obtained after running the model 200,000 times.</div>
<div class="l b" id="L61" style="left:514.8px;top:1044px;font-size:16.6px;line-height:22px;transform:scaleX(0.8654);">By drawing a best-fit line, a design equation can be obtained, where</div>
<div class="l b" id="L62" style="left:514.8px;top:1063px;font-size:16.6px;line-height:22px;transform:scaleX(0.8526);">Y=0.00099*X +0.39. To validate the model, actual flow rates have been</div>
<div class="l b" id="L63" style="left:514.8px;top:1083px;font-size:16.6px;line-height:22px;transform:scaleX(0.8813);">measured in three buildings (plotted in green and red on Figure 3). The</div>
<div class="l b" id="L64" style="left:514.8px;top:1103px;font-size:16.6px;line-height:22px;transform:scaleX(0.8652);">design equation is very close to actual (observed) flow rate. The gaps</div>
<div class="l b" id="L65" style="left:514.8px;top:1122px;font-size:16.6px;line-height:22px;transform:scaleX(0.8811);">can be considered factors of safety. When compared to the rate obtained</div>
<div class="l b" id="L66" style="left:514.8px;top:1142px;font-size:16.6px;line-height:22px;transform:scaleX(0.8632);">from the design guide, the actual flow rate is considerably lower.</div>
<div class="l b" id="L67" style="left:529.6px;top:1162px;font-size:16.6px;line-height:22px;transform:scaleX(0.8872);">While further research is needed to cover other types of buildings</div>
<div class="l b" id="L68" style="left:514.8px;top:1181px;font-size:16.6px;line-height:22px;transform:scaleX(0.8907);">with more occupants, this research suggests the model is much better</div>
<div class="l b" id="L69" style="left:514.8px;top:1201px;font-size:16.6px;line-height:22px;transform:scaleX(0.8869);">than the current design guides at estimating flow rates. This offers the</div>
<div class="l b" id="L70" style="left:514.8px;top:1221px;font-size:16.6px;line-height:22px;transform:scaleX(0.8758);">opportunity to avoid oversizing of water systems and, so, cut water use</div>
<div class="l b" id="L71" style="left:514.8px;top:1240px;font-size:16.6px;line-height:22px;transform:scaleX(0.8986);">and reduce expenditure on plant.</div>
<div class="l cj" id="L72" style="left:717.0px;top:1242px;font-size:14.4px;line-height:19px;transform:scaleX(0.6846);">CJ</div>
<div class="l au" id="L73" style="left:530.0px;top:1271px;font-size:12.5px;line-height:17px;transform:scaleX(0.9742);">SARWAR MOHAMMED</div>
<div class="l nt" id="L74" style="left:665.5px;top:1271px;font-size:12.2px;line-height:16px;transform:scaleX(0.9242);">is a PhD student at Heriot-Watt University</div>
<div class="l nt" id="L75" style="left:530.0px;top:1295px;font-size:12.2px;line-height:16px;transform:scaleX(0.9169);">The paper <i>New method to design flow rate in non-residential buildings</i> was</div>
<div class="l nt" id="L76" style="left:530.0px;top:1311px;font-size:12.2px;line-height:16px;transform:scaleX(0.9053);">presented at the 2020 CIBSE ASHRAE Technical Symposium. All the papers and</div>
<div class="l nt" id="L77" style="left:530.0px;top:1326px;font-size:12.2px;line-height:16px;transform:scaleX(0.9039);">presentations are available at <b>www.cibse.org/symposium</b>, and are free to full-time</div>
<div class="l nt" id="L78" style="left:530.0px;top:1342px;font-size:12.2px;line-height:16px;transform:scaleX(0.9046);">student members and available for £50 for CIBSE and ASHRAE members.</div>
<div class="l hd1" id="L79" style="left:59.0px;top:55px;font-size:15.9px;line-height:21px;transform:scaleX(0.9653);">FLOWRATES</div>
<div class="l hd2" id="L80" style="left:185.0px;top:55px;font-size:15.9px;line-height:21px;transform:scaleX(0.9810);">SIMULATION METHOD</div>
<div class="l ft1" id="L81" style="left:59.0px;top:1391px;font-size:15px;line-height:20px;transform:scaleX(0.9888);">56</div>
<div class="l ft2" id="L82" style="left:86.0px;top:1394px;font-size:12.6px;line-height:17px;transform:scaleX(1.0350);">October 2020</div>
<div class="l ft2" id="L83" style="left:174.0px;top:1394px;font-size:12.6px;line-height:17px;transform:scaleX(1.0675);">www.cibsejournal.com</div>
<div class="l pq" id="L84" style="left:59.0px;top:1245px;font-size:27.5px;line-height:36px;transform:scaleX(0.8966);">“Oversizing not only introduces</div>
<div class="l pq" id="L85" style="left:59.0px;top:1280px;font-size:27.5px;line-height:36px;transform:scaleX(0.8879);">cost inefficiency, but can have</div>
<div class="l pq" id="L86" style="left:59.0px;top:1315px;font-size:27.5px;line-height:36px;transform:scaleX(0.9033);">a negative effect on water quality”</div>
<div class="l ct" id="L87" style="left:473.0px;top:141px;font-size:15px;line-height:20px;transform:scaleX(0.9204);">CDF of simulated flow rate in the Postgraduate Centre</div>
<div class="l ct" id="L88" style="left:551.6px;top:501px;font-size:15px;line-height:20px;transform:scaleX(0.9159);">Design equation for workplace</div>
<div class="l cap" id="L89" style="left:363.0px;top:466px;font-size:10.5px;line-height:14px;transform:scaleX(0.9196);">Figure 2: For a water system to meet all the demands of the Postgraduate Centre the CDF gives a value of design of 0.794L·s<sup>-1</sup></div>
<div class="l cap" id="L90" style="left:362.5px;top:851px;font-size:10.5px;line-height:14px;transform:scaleX(0.9145);">Figure 3: The design equation is very close to actual flow rate; the gaps are considered factors of safety</div>
<div class="l ax" id="L91" style="left:641.0px;top:443px;font-size:12.2px;line-height:16px;transform:scaleX(0.8726);">Flowrate L·s<sup>-1</sup></div>
<div class="l ax" id="L92" style="left:616.6px;top:826px;font-size:12.2px;line-height:16px;transform:scaleX(0.9351);">Number of people</div>
</body></html>
